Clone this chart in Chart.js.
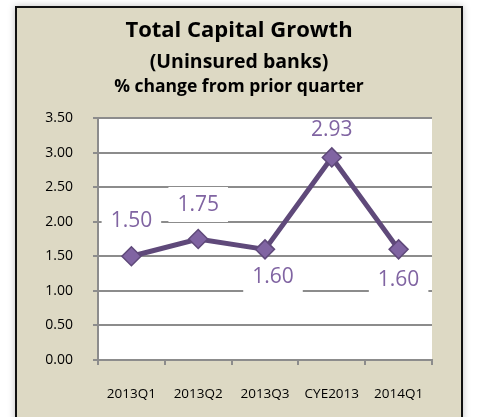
<!DOCTYPE html>
<html>
<head>
<meta charset="utf-8">
<script src="https://cdn.jsdelivr.net/npm/chart.js@4.4.1/dist/chart.umd.min.js"></script>
<style>
    body { margin: 0; background: #fff; }
    #frame {
        position: absolute; left: 15px; top: 6px;
        width: 444px; height: 420px;
        background: #ddd9c4;
        border: 2px solid #111;
        box-shadow: 0 0 7px rgba(0,0,0,0.25);
        overflow: hidden;
    }
    canvas { display: block; }
</style>
</head>
<body>
<div id="frame"><canvas id="chart-capital" width="444" height="411"></canvas></div>
<script>
// Total capital growth, uninsured banks

const quarters = ['2013Q1', '2013Q2', '2013Q3', 'CYE2013', '2014Q1'];
const capitalGrowth = [1.50, 1.75, 1.60, 2.93, 1.60];
const titleLines = ['Total Capital Growth', '(Uninsured banks)', '% change from prior quarter'];

// where each value label sits relative to its point (dx, dy)
const labelOffsets = [[0, -35], [0, -34], [8, 28], [0, -27], [0, 31]];

const fontFamily = '"Open Sans", sans-serif';
const purple = '#8064a2';
const purpleDark = '#5f497a';
const gridGray = '#8c8c8c';

const headings = {
    id: 'headings',
    afterDraw(chart) {
        const ctx = chart.ctx;
        const cx = chart.width / 2;
        const styles = [
            { size: 22, y: 29 },
            { size: 19.5, y: 60 },
            { size: 17.5, y: 84 },
        ];
        ctx.save();
        ctx.fillStyle = '#000';
        ctx.textAlign = 'center';
        ctx.textBaseline = 'alphabetic';
        titleLines.forEach((t, i) => {
            ctx.font = 'bold ' + styles[i].size + 'px ' + fontFamily;
            ctx.fillText(t, cx, styles[i].y);
        });
        ctx.restore();
    },
};

const plotBackground = {
    id: 'plotBackground',
    beforeDraw(chart) {
        const a = chart.chartArea;
        chart.ctx.save();
        chart.ctx.fillStyle = '#fff';
        chart.ctx.fillRect(a.left, a.top, a.right - a.left, a.bottom - a.top);
        chart.ctx.restore();
    },
};

// value labels with white boxes that cut the gridlines
const valueLabels = {
    id: 'valueLabels',
    beforeDatasetsDraw(chart) {
        const ctx = chart.ctx;
        const a = chart.chartArea;
        const meta = chart.getDatasetMeta(0);
        ctx.save();
        ctx.font = '21px ' + fontFamily;
        ctx.textAlign = 'center';
        ctx.textBaseline = 'middle';
        meta.data.forEach((pt, i) => {
            const txt = capitalGrowth[i].toFixed(2);
            const x = pt.x + labelOffsets[i][0];
            const y = pt.y + labelOffsets[i][1];
            const w = ctx.measureText(txt).width + 18;
            let top = y - 18;
            const bottom = y + 17;
            if (top < a.top + 1.5) top = a.top + 1.5;
            ctx.fillStyle = '#fff';
            ctx.fillRect(x - w / 2, top, w, bottom - top);
            ctx.fillStyle = purple;
            ctx.fillText(txt, x, y);
        });
        ctx.restore();
    },
};

new Chart(document.getElementById('chart-capital'), {
    type: 'line',
    data: {
        labels: quarters,
        datasets: [{
            data: capitalGrowth,
            borderColor: purpleDark,
            borderWidth: 5,
            pointStyle: 'rectRot',
            pointRadius: 9.5,
            pointBackgroundColor: purple,
            pointBorderColor: purpleDark,
            pointBorderWidth: 1.5,
            tension: 0,
        }],
    },
    options: {
        responsive: false,
        animation: false,
        layout: { padding: { top: 110, right: 29, bottom: 19, left: 0 } },
        plugins: {
            legend: { display: false },
            tooltip: { enabled: false },
        },
        scales: {
            x: {
                offset: true,
                afterFit(s) { s.height = 40; },
                grid: {
                    offset: true,
                    drawOnChartArea: false,
                    color: gridGray,
                    lineWidth: 2,
                    tickLength: 5,
                },
                border: { color: gridGray, width: 2 },
                ticks: { color: '#000', font: { family: fontFamily, size: 13.5 }, padding: 21 },
            },
            y: {
                min: 0,
                max: 3.5,
                afterFit(s) { s.width = 81; },
                grid: { color: gridGray, lineWidth: 2, tickLength: 5 },
                border: { color: gridGray, width: 2 },
                ticks: {
                    stepSize: 0.5,
                    color: '#000',
                    padding: 20,
                    font: { family: fontFamily, size: 14 },
                    callback: v => v.toFixed(2),
                },
            },
        },
    },
    plugins: [plotBackground, valueLabels, headings],
});
</script>
</body>
</html>
